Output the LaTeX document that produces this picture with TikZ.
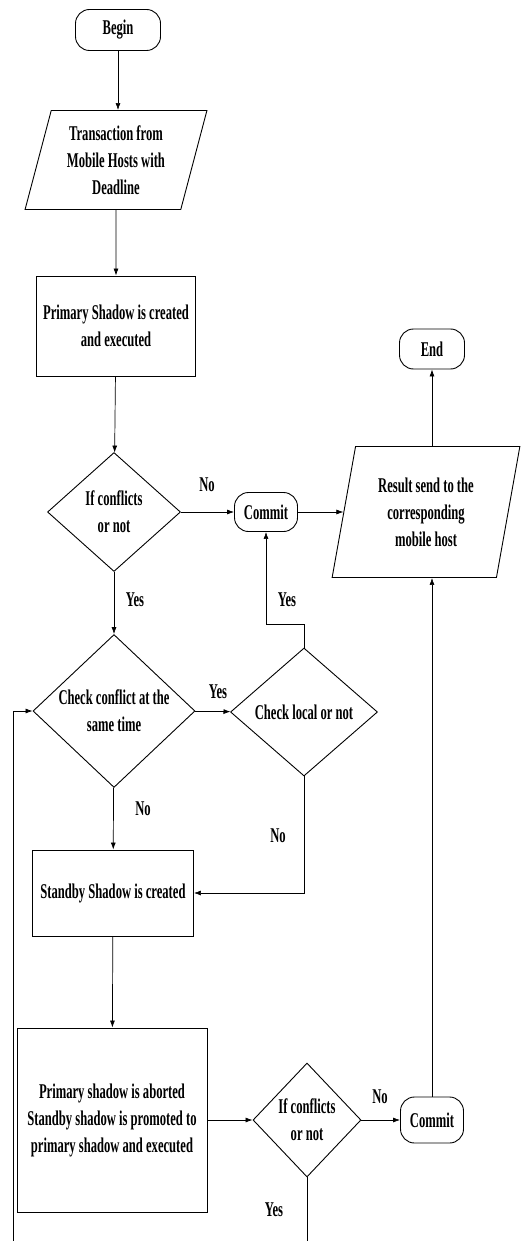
\documentclass[tikz,border=0pt]{standalone}
\usepackage{fontspec}
\setmainfont[FakeStretch=0.6]{Liberation Serif}
\usetikzlibrary{shapes.geometric,arrows.meta}

\begin{document}
\begin{tikzpicture}[x=1pt,y=-1pt,
  every node/.style={font=\fontsize{21}{27}\selectfont\bfseries,align=center,inner sep=0pt},
  term/.style={draw,line width=0.9pt,rounded corners=14pt},
  proc/.style={draw,line width=0.9pt},
  io/.style={draw,line width=0.9pt,trapezium,trapezium stretches=true},
  decide/.style={draw,line width=0.9pt,diamond},
  arr/.style={line width=0.7pt,-{Latex[length=7pt,width=5pt]}},
  link/.style={line width=0.7pt}]
  \useasboundingbox (0,0) rectangle (528,1241);

  \node[term,minimum width=85pt,minimum height=41pt] (begin) at (118,30) {Begin};
  \node[io,trapezium left angle=74,trapezium right angle=106,minimum width=182pt,minimum height=99pt] (trans) at (116,160) {Transaction from\\Mobile Hosts with\\Deadline};
  \node[proc,minimum width=159pt,minimum height=100pt] (primary) at (116,326) {Primary Shadow is created\\and executed};
  \node[decide,minimum width=133pt,minimum height=119pt] (conf) at (114,512) {If conflicts\\or not};
  \node[term,minimum width=63pt,minimum height=39pt] (commit) at (266,512) {Commit};
  \node[io,trapezium left angle=77,trapezium right angle=103,minimum width=188pt,minimum height=131pt] (result) at (426,512) {Result send to the\\corresponding\\mobile host};
  \node[term,minimum width=65pt,minimum height=40pt] (end) at (432,349) {End};
  \node[decide,minimum width=162pt,minimum height=141pt] (same) at (114,711) {Check conflict at the\\same time};
  \node[decide,minimum width=147pt,minimum height=128pt] (local) at (304,712) {Check local or not};
  \node[proc,minimum width=161pt,minimum height=86pt] (standby) at (113,893) {Standby Shadow is created};
  \node[proc,minimum width=190pt,minimum height=184pt] (abort) at (112,1120) {Primary shadow is aborted\\Standby shadow is promoted to\\primary shadow and executed};
  \node[decide,minimum width=108pt,minimum height=114pt] (conf2) at (307,1120) {If conflicts\\or not};
  \node[term,minimum width=63pt,minimum height=46pt] (commit2) at (432,1120) {Commit};

  \coordinate (back) at (13,1241);
  \coordinate (out) at (307,1241);

  \draw[arr] (begin.south) -- (begin.south |- trans.north);
  \draw[arr] (trans) -- (primary);
  \draw[arr] (primary) -- (conf);
  \draw[arr] (conf) -- (commit);
  \draw[arr] (commit) -- (result);
  \draw[arr] (result.north -| end) -- (end.south);
  \draw[arr] (conf) -- (same);
  \draw[arr] (same) -- (local);
  \draw[arr] (local.north) -- ++(0,-23) -| (commit.south);
  \draw[arr] (local.south) |- (standby.east);
  \draw[arr] (same) -- (standby);
  \draw[arr] (standby) -- (abort);
  \draw[arr] (abort) -- (conf2);
  \draw[arr] (conf2) -- (commit2);
  \draw[arr] (commit2.north) -- (commit2.north |- result.south);
  \draw[link] (conf2.south) -- (out);
  \draw[arr] (back) |- (same.west);

  \node (no1) at (207,485) {No};
  \node (yes1) at (135,600) {Yes};
  \node (yes2) at (287,600) {Yes};
  \node (yes3) at (218,692) {Yes};
  \node (no2) at (143,809) {No};
  \node (no3) at (278,836) {No};
  \node (no4) at (380,1097) {No};
  \node (yes4) at (274,1210) {Yes};
\end{tikzpicture}
\end{document}
